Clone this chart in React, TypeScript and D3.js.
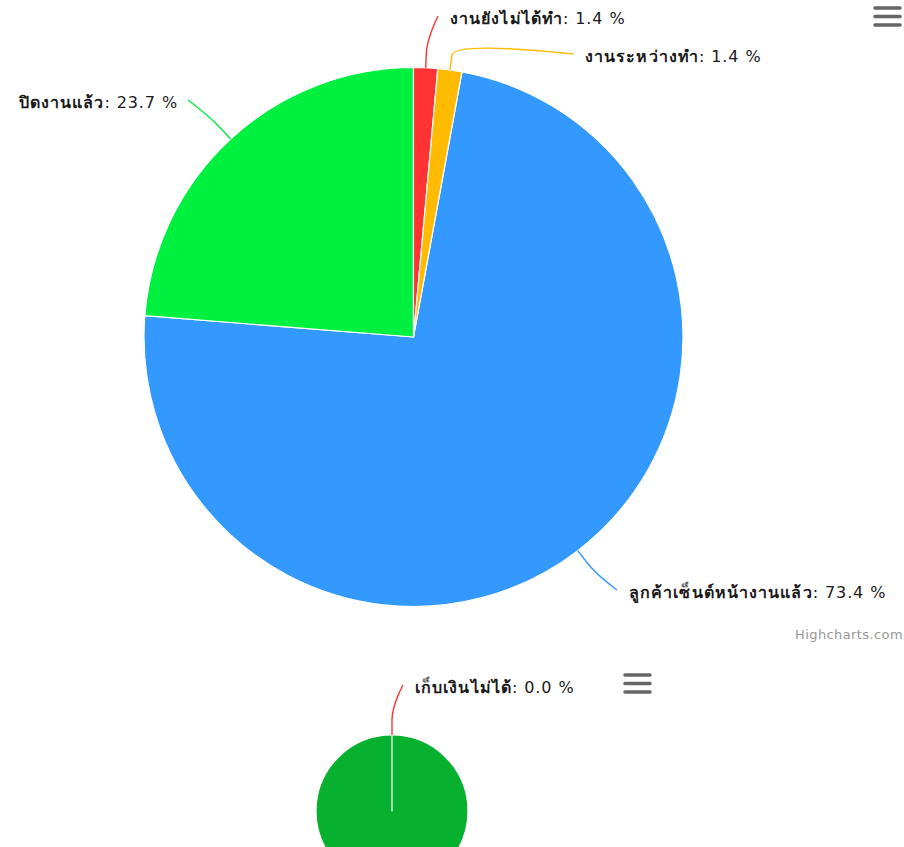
import React, { useEffect, useRef } from "react";
import * as d3 from "d3";

// top pie: job status
const topNames = ["งานยังไม่ได้ทำ", "งานระหว่างทำ", "ลูกค้าเซ็นต์หน้างานแล้ว", "ปิดงานแล้ว"];
const topValues = [2, 2, 102, 33];
const topColors = ["#ff3333", "#ffbb00", "#3399ff", "#00f040"];

// bottom pie: billing
const bottomNames = ["เก็บเงินไม่ได้", "เก็บเงินได้"];
const bottomValues = [0, 1];
const bottomColors = ["#ff3333", "#08b030"];

// label placement (text anchor point, alignment), Highcharts-like
const topLabelAt = [
  { x: 450, y: 18, align: "left" },
  { x: 585, y: 56, align: "left" },
  { x: 629, y: 592, align: "left" },
  { x: 178, y: 102, align: "right" },
];
const bottomLabelAt = [{ x: 415, y: 687, align: "left" }, null];

const W = 904;
const H = 847;
const FONT = "Tahoma, 'DejaVu Sans', 'Noto Sans', sans-serif";

type LabelPos = { x: number; y: number; align: string } | null;

const drawPie = (
  g: d3.Selection<SVGGElement, unknown, null, undefined>,
  names: string[],
  values: number[],
  colors: string[],
  labels: LabelPos[],
  cx: number,
  cy: number,
  r: number
) => {
  const total = d3.sum(values);
  const pie = d3
    .pie<number>()
    .sort(null)
    .startAngle(0)
    .endAngle(2 * Math.PI)
    .value((d) => d);
  const arcs = pie(values);
  const arc = d3.arc<d3.PieArcDatum<number>>().innerRadius(0).outerRadius(r);

  const pg = g.append("g").attr("transform", `translate(${cx},${cy})`);

  // bigger slices first so the zero slice border stays visible
  const order = d3.range(arcs.length).sort((a, b) => values[b] - values[a]);
  order.forEach((i) => {
    pg.append("path")
      .attr("d", arc(arcs[i]) as string)
      .attr("fill", colors[i])
      .attr("stroke", "#ffffff")
      .attr("stroke-width", 1.2)
      .attr("stroke-linejoin", "round");
  });

  arcs.forEach((a, i) => {
    const lp = labels[i];
    if (!lp) return;
    const mid = (a.startAngle + a.endAngle) / 2;
    const at = (rad: number) => [rad * Math.sin(mid), -rad * Math.cos(mid)];
    const [tx, ty] = at(r);
    const [bx, by] = at(r + 15);
    const ex = (lp.align === "left" ? lp.x - 12 : lp.x + 10) - cx;
    const ey = lp.y - 2 - cy;
    const path = d3.path();
    path.moveTo(ex, ey);
    path.bezierCurveTo(ex, ey, 2 * bx - tx, 2 * by - ty, bx, by);
    path.lineTo(tx, ty);
    pg.append("path")
      .attr("d", path.toString())
      .attr("fill", "none")
      .attr("stroke", colors[i])
      .attr("stroke-width", 1.4);

    const pct = total ? (values[i] / total) * 100 : 0;
    const t = g
      .append("text")
      .attr("x", lp.x)
      .attr("y", lp.y)
      .attr("dominant-baseline", "central")
      .attr("text-anchor", lp.align === "left" ? "start" : "end")
      .attr("font-family", FONT)
      .attr("font-size", 16)
      .attr("fill", "#1a1a1a");
    t.append("tspan").attr("font-weight", "bold").attr("letter-spacing", 1.1).text(names[i]);
    t.append("tspan").attr("letter-spacing", 0.9).text(`: ${d3.format(".1f")(pct)} %`);
  });
};

const drawMenu = (
  g: d3.Selection<SVGGElement, unknown, null, undefined>,
  x: number,
  y: number
) => {
  [0, 1, 2].forEach((k) => {
    g.append("line")
      .attr("x1", x)
      .attr("x2", x + 25)
      .attr("y1", y + k * 8.5)
      .attr("y2", y + k * 8.5)
      .attr("stroke", "#666666")
      .attr("stroke-width", 3.5)
      .attr("stroke-linecap", "round");
  });
};

const App = () => {
  const ref = useRef<SVGSVGElement>(null);

  useEffect(() => {
    const svg = d3.select(ref.current);
    svg.selectAll("*").remove();
    const g = svg.append("g") as d3.Selection<SVGGElement, unknown, null, undefined>;

    drawPie(g, topNames, topValues, topColors, topLabelAt, 413.5, 337, 269.5);
    drawMenu(g, 875, 8);

    g.append("text")
      .attr("x", 903)
      .attr("y", 634)
      .attr("dominant-baseline", "central")
      .attr("text-anchor", "end")
      .attr("font-family", FONT)
      .attr("font-size", 13)
      .attr("letter-spacing", 0.4)
      .attr("fill", "#999999")
      .text("Highcharts.com");

    drawPie(g, bottomNames, bottomValues, bottomColors, bottomLabelAt, 392, 811, 76);
    drawMenu(g, 625, 675);
  }, []);

  return (
    <svg
      ref={ref}
      width={W}
      height={H}
      style={{ position: "absolute", left: 0, top: 0, background: "#ffffff" }}
    ></svg>
  );
};

export default App;
